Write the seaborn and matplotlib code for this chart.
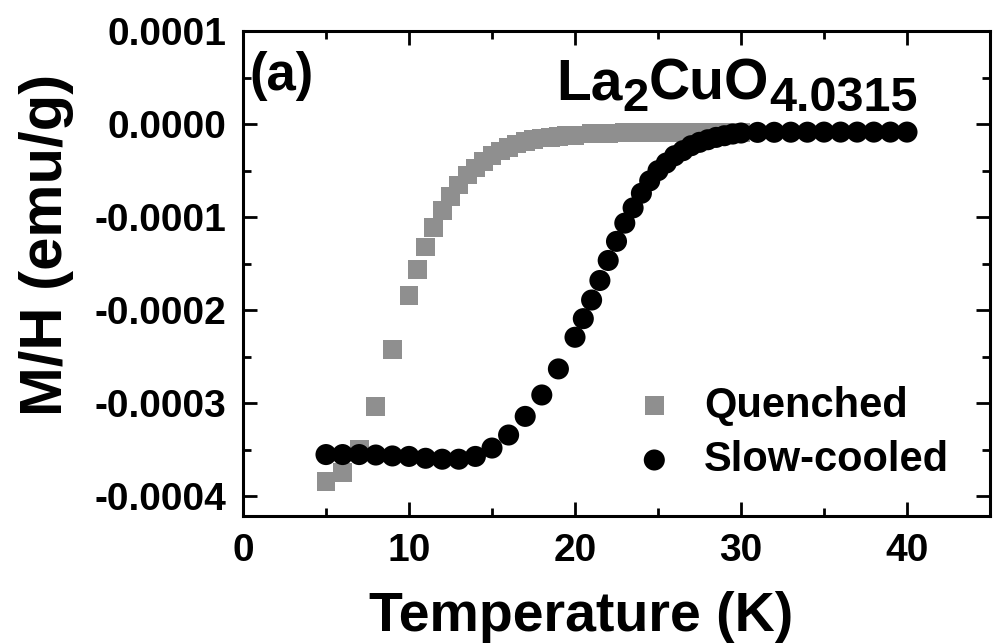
import numpy as np
import pandas as pd
import matplotlib
matplotlib.use("Agg")
import matplotlib.pyplot as plt
import seaborn as sns
from matplotlib.ticker import MultipleLocator, FormatStrFormatter

# ---------------- data (M/H in emu/g) ----------------
quenched_T = [5, 6, 7, 8, 9, 10, 10.5, 11, 11.5, 12, 12.5, 13, 13.5, 14, 14.5,
              15, 15.5, 16, 16.5, 17, 17.5, 18, 18.5, 19, 19.5, 20,
              21, 22, 23, 24, 25, 26, 27, 28, 29, 30]
quenched_M = [-3.84e-4, -3.74e-4, -3.50e-4, -3.03e-4, -2.42e-4, -1.84e-4, -1.565e-4,
              -1.32e-4, -1.11e-4, -0.93e-4, -0.775e-4, -0.654e-4, -0.547e-4,
              -0.472e-4, -0.40e-4, -0.34e-4, -0.289e-4, -0.25e-4, -0.214e-4,
              -0.185e-4, -0.165e-4, -0.15e-4, -0.14e-4, -0.13e-4, -0.125e-4,
              -0.12e-4, -0.10e-4, -0.097e-4, -0.095e-4, -0.093e-4, -0.092e-4,
              -0.091e-4, -0.09e-4, -0.09e-4, -0.09e-4, -0.09e-4]

slow_T = [5, 6, 7, 8, 9, 10, 11, 12, 13, 14, 15, 16, 17, 18, 19, 20, 20.5, 21,
          21.5, 22, 22.5, 23, 23.5, 24, 24.5, 25, 25.5, 26, 26.5, 27, 27.5, 28,
          28.5, 29, 29.5, 30, 31, 32, 33, 34, 35, 36, 37, 38, 39, 40]
slow_M = [-3.55e-4, -3.55e-4, -3.55e-4, -3.555e-4, -3.565e-4, -3.57e-4, -3.59e-4,
          -3.60e-4, -3.60e-4, -3.57e-4, -3.48e-4, -3.34e-4, -3.14e-4, -2.91e-4,
          -2.63e-4, -2.29e-4, -2.09e-4, -1.89e-4, -1.68e-4, -1.465e-4, -1.26e-4,
          -1.064e-4, -0.90e-4, -0.743e-4, -0.61e-4, -0.50e-4, -0.418e-4,
          -0.34e-4, -0.286e-4, -0.232e-4, -0.196e-4, -0.168e-4, -0.143e-4,
          -0.125e-4, -0.107e-4, -0.096e-4, -0.089e-4, -0.088e-4, -0.087e-4,
          -0.087e-4, -0.086e-4, -0.086e-4, -0.086e-4, -0.086e-4, -0.086e-4,
          -0.086e-4]

series_labels = ["Quenched", "Slow-cooled"]
x_ticks = [0, 10, 20, 30, 40]
y_ticks = [-0.0004, -0.0003, -0.0002, -0.0001, 0.0, 0.0001]

# ---------------- style ----------------
sns.set_style("ticks")
plt.rcParams["font.family"] = ["Liberation Sans", "DejaVu Sans"]
plt.rcParams["font.weight"] = "bold"
plt.rcParams["axes.labelweight"] = "bold"
plt.rcParams["axes.linewidth"] = 2.2
plt.rcParams["xtick.direction"] = "in"
plt.rcParams["ytick.direction"] = "in"
for k in ["text.color", "axes.labelcolor", "xtick.color", "ytick.color",
          "axes.edgecolor"]:
    plt.rcParams[k] = "black"

W, H = 993, 643
fig = plt.figure(figsize=(W / 100, H / 100), dpi=100)
ax = fig.add_axes([243 / W, 1 - 516 / H, (990 - 243) / W, (516 - 31) / H])

dfq = pd.DataFrame({"T": quenched_T, "M": quenched_M})
dfs = pd.DataFrame({"T": slow_T, "M": slow_M})

sns.scatterplot(data=dfq, x="T", y="M", ax=ax, marker="s", color="#8f8f8f",
                s=185, edgecolor="none", linewidth=0, label=series_labels[0],
                zorder=3)
sns.scatterplot(data=dfs, x="T", y="M", ax=ax, marker="o", color="black",
                s=230, edgecolor="none", linewidth=0, label=series_labels[1],
                zorder=4)

ax.set_xlim(0, 45)
ax.set_ylim(-0.000421, 0.0001)
ax.set_xticks(x_ticks)
ax.set_yticks(y_ticks)
ax.xaxis.set_minor_locator(MultipleLocator(5))
ax.yaxis.set_minor_locator(MultipleLocator(0.00005))
ax.yaxis.set_major_formatter(FormatStrFormatter("%.4f"))
ax.xaxis.set_major_formatter(FormatStrFormatter("%d"))

ax.tick_params(which="both", top=True, right=True, width=2, color="black")
ax.tick_params(which="major", length=10, labelsize=28, labelcolor="black")
ax.tick_params(which="minor", length=5.5)
ax.tick_params(axis="x", which="major", pad=12)
ax.tick_params(axis="y", which="major", pad=12)

for sp in ax.spines.values():
    sp.set_visible(True)
    sp.set_linewidth(2.2)
    sp.set_color("black")

ax.set_xlabel("Temperature (K)", fontsize=40)
ax.set_ylabel("M/H (emu/g)", fontsize=43)
ax.xaxis.set_label_coords(0.452, -0.155)
ax.yaxis.set_label_coords(-0.226, 0.56)

leg = ax.legend(loc="lower right", bbox_to_anchor=(0.968, 0.04), frameon=False,
                fontsize=30, handletextpad=0.6, labelspacing=0.34,
                borderaxespad=0, handlelength=1.2)
for t in leg.get_texts():
    t.set_color("black")

# panel label
ax.text(0.008, 0.958, "(a)", transform=ax.transAxes, fontsize=38,
        fontweight="bold", va="top", ha="left", color="black")

# compound formula with subscripts, placed piece by piece
fig.canvas.draw()
r = fig.canvas.get_renderer()
pieces = [("La", 0, 41), ("2", -11, 34), ("CuO", 0, 41), ("4.0315", -11, 35)]
x = 556
base = H - 100
for s, dy, fs in pieces:
    t = fig.text(x / W, (base + dy) / H, s, fontsize=fs, fontweight="bold",
                 va="baseline", ha="left", color="black")
    bb = t.get_window_extent(r)
    x += bb.width

fig.savefig("out.png", dpi=100)
